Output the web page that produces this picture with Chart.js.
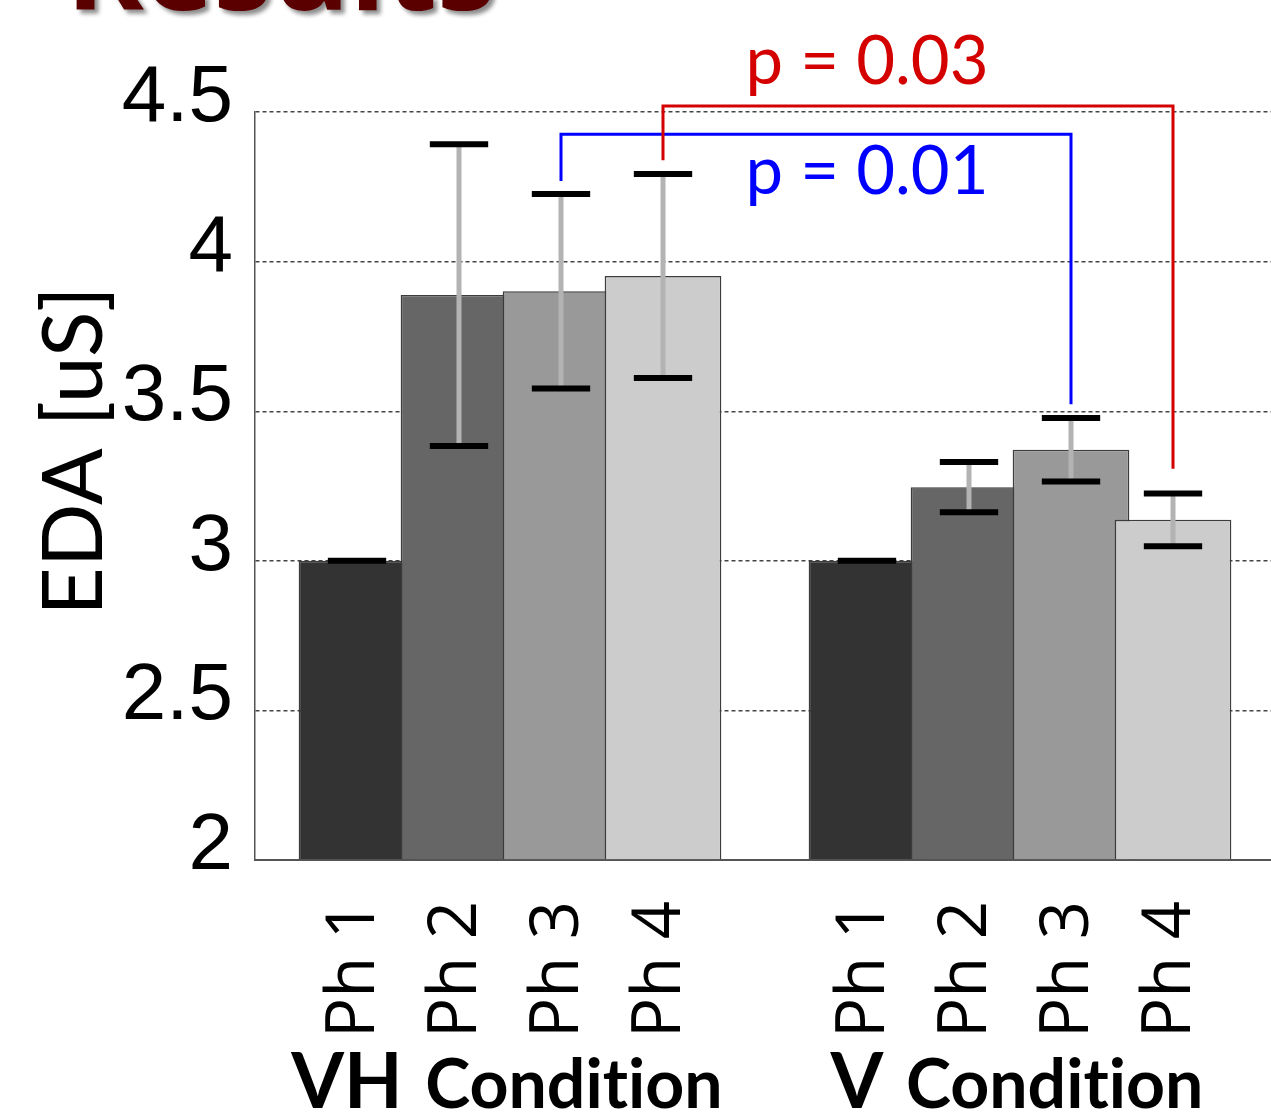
<!DOCTYPE html>
<html>
<head>
<meta charset="utf-8">
<title>EDA results</title>
<script src="https://cdn.jsdelivr.net/npm/chart.js@4.4.1/dist/chart.umd.min.js"></script>
<style>
  html, body { margin: 0; padding: 0; background: #fff; overflow: hidden; }
  #wrap { width: 1280px; height: 1112px; }
</style>
</head>
<body>
<div id="wrap"><canvas id="edaChart" width="1280" height="1112"></canvas></div>
<script>
// conditions (groups) and phases (series)
var conditions = ['VH', 'V'];
var phases = ['Ph 1', 'Ph 2', 'Ph 3', 'Ph 4'];

// mean EDA per condition [VH, V]
var ph1Mean = [3.00, 3.00];
var ph2Mean = [3.888, 3.246];
var ph3Mean = [3.901, 3.371];
var ph4Mean = [3.952, 3.137];

// error (half length of the bar) per condition
var ph1Err = [0, 0];
var ph2Err = [0.504, 0.084];
var ph3Err = [0.325, 0.106];
var ph4Err = [0.341, 0.088];

var yTicks = [2, 2.5, 3, 3.5, 4, 4.5];

// significance brackets, VH phase vs V phase
var sigLabels = ['p = 0.01', 'p = 0.03'];
var sigPhase = [2, 3];
var sigTop = [4.426, 4.52];
var sigLeftEnd = [4.269, 4.339];
var sigRightEnd = [3.523, 3.308];

var means = [ph1Mean, ph2Mean, ph3Mean, ph4Mean];
var errs = [ph1Err, ph2Err, ph3Err, ph4Err];
var barColors = ['#333333', '#666666', '#999999', '#cccccc'];
var sigColors = ['#0000ff', '#d40000'];

// draw Ph1 first so Ph4 ends up on top (bars overlap a little)
var drawOrder = {
  id: 'drawOrder',
  beforeDatasetsDraw: function (chart) {
    for (var i = 0; i < chart.data.datasets.length; i++) {
      chart.getDatasetMeta(i).controller.draw();
    }
    return false;
  }
};

var extras = {
  id: 'extras',
  afterDraw: function (chart) {
    var ctx = chart.ctx;
    var y = chart.scales.y;
    var x = chart.scales.x;

    // error bars
    for (var i = 0; i < means.length; i++) {
      var meta = chart.getDatasetMeta(i);
      meta.data.forEach(function (bar, j) {
        var top = y.getPixelForValue(means[i][j] + errs[i][j]);
        var bot = y.getPixelForValue(means[i][j] - errs[i][j]);
        var half = bar.width / 4;
        ctx.save();
        ctx.strokeStyle = '#b3b3b3';
        ctx.lineWidth = 5;
        ctx.beginPath();
        ctx.moveTo(bar.x, top);
        ctx.lineTo(bar.x, bot);
        ctx.stroke();
        ctx.strokeStyle = '#000';
        ctx.lineWidth = 6;
        ctx.beginPath();
        ctx.moveTo(bar.x - half, top);
        ctx.lineTo(bar.x + half, top);
        ctx.moveTo(bar.x - half, bot);
        ctx.lineTo(bar.x + half, bot);
        ctx.stroke();
        ctx.restore();
      });
    }

    // significance brackets
    for (var k = 0; k < sigLabels.length; k++) {
      var m = chart.getDatasetMeta(sigPhase[k]);
      var x1 = m.data[0].x, x2 = m.data[1].x;
      var yt = y.getPixelForValue(sigTop[k]);
      ctx.save();
      ctx.strokeStyle = sigColors[k];
      ctx.lineWidth = 3;
      ctx.beginPath();
      ctx.moveTo(x1, y.getPixelForValue(sigLeftEnd[k]));
      ctx.lineTo(x1, yt);
      ctx.lineTo(x2, yt);
      ctx.lineTo(x2, y.getPixelForValue(sigRightEnd[k]));
      ctx.stroke();
      ctx.fillStyle = sigColors[k];
      ctx.font = '67px Lato';
      ctx.textAlign = 'center';
      ctx.textBaseline = 'alphabetic';
      var ty = k === 0 ? yt + 60 : yt - 22;
      ctx.fillText(sigLabels[k], x.getPixelForValue(0.7), ty);
      ctx.restore();
    }

    // phase labels under each bar
    ctx.save();
    ctx.fillStyle = '#000';
    ctx.font = '67px "Open Sans"';
    ctx.textAlign = 'right';
    ctx.textBaseline = 'middle';
    for (var p = 0; p < phases.length; p++) {
      chart.getDatasetMeta(p).data.forEach(function (bar) {
        ctx.save();
        ctx.translate(bar.x - 2, y.bottom + 41);
        ctx.rotate(-Math.PI / 2);
        ctx.fillText(phases[p], 0, 0);
        ctx.restore();
      });
    }
    ctx.restore();

    // condition labels (ZWNJ keeps "ti" from forming a ligature)
    ctx.save();
    ctx.fillStyle = '#000';
    ctx.textBaseline = 'alphabetic';
    var word = ' Condit\u200Cion';
    conditions.forEach(function (c, j) {
      var cx = x.getPixelForValue(j);
      ctx.font = 'bold 76px Lato';
      var w1 = ctx.measureText(c).width;
      ctx.font = 'bold 68px Lato';
      var w2 = ctx.measureText(word).width;
      var sx = cx - (w1 + w2) / 2 - 6;
      ctx.textAlign = 'left';
      ctx.font = 'bold 76px Lato';
      ctx.fillText(c, sx, 1108);
      ctx.font = 'bold 68px Lato';
      ctx.fillText(word, sx + w1 + 6, 1108);
    });
    ctx.restore();

    // y axis title
    ctx.save();
    ctx.fillStyle = '#000';
    ctx.font = '84px Lato';
    ctx.textAlign = 'center';
    ctx.textBaseline = 'middle';
    ctx.translate(75, 451);
    ctx.rotate(-Math.PI / 2);
    ctx.fillText('EDA [uS]', 0, 0);
    ctx.restore();

    // slide title, mostly cut off at the top
    ctx.save();
    ctx.font = 'bold 118px "Open Sans"';
    ctx.fillStyle = '#5a0000';
    ctx.shadowColor = 'rgba(0,0,0,0.45)';
    ctx.shadowOffsetX = 4;
    ctx.shadowOffsetY = 4;
    ctx.shadowBlur = 4;
    ctx.textAlign = 'left';
    ctx.textBaseline = 'alphabetic';
    ctx.fillText('Results', 66, 10);
    ctx.restore();
  }
};

var ctx = document.getElementById('edaChart').getContext('2d');
var myChart = new Chart(ctx, {
  type: 'bar',
  data: {
    labels: conditions,
    datasets: phases.map(function (ph, i) {
      return {
        label: ph,
        data: means[i],
        base: 2,
        backgroundColor: barColors[i],
        borderColor: '#3c3c3c',
        borderWidth: 1.5,
        barPercentage: 1.144,
        categoryPercentage: 0.8
      };
    })
  },
  options: {
    responsive: false,
    animation: false,
    layout: { padding: { top: 112, right: 5, left: 0, bottom: 0 } },
    plugins: {
      legend: { display: false },
      tooltip: { enabled: false }
    },
    scales: {
      x: {
        offset: true,
        grid: { display: false },
        border: { display: true, color: '#555', width: 2 },
        ticks: { display: false },
        afterFit: function (scale) { scale.height = 252; }
      },
      y: {
        min: 2,
        max: 4.5,
        afterBuildTicks: function (scale) {
          scale.ticks = yTicks.map(function (v) { return { value: v }; });
        },
        ticks: {
          color: '#000',
          font: { family: '"Liberation Sans", Arial', size: 80 },
          padding: 22,
          labelOffset: -13,
          callback: function (v) { return String(v); }
        },
        grid: { color: '#444', lineWidth: 1.4, drawTicks: false },
        border: { display: true, color: '#555', width: 1.5, dash: [4, 3] },
        afterFit: function (scale) { scale.width = 255; }
      }
    }
  },
  plugins: [drawOrder, extras]
});
</script>
</body>
</html>
